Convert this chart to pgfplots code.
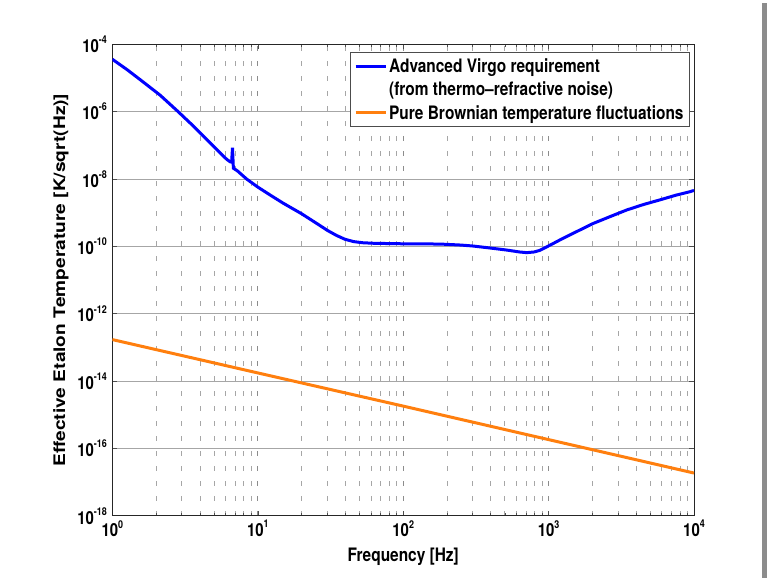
\documentclass[border=0pt]{standalone}
\usepackage{fontspec}
\setmainfont{TeX Gyre Heros}
\usepackage{graphicx}
\usepackage{pgfplots}
\pgfplotsset{compat=1.18}

\definecolor{vblue}{RGB}{0,0,255}
\definecolor{vorange}{RGB}{255,127,14}
\newcommand{\tl}[1]{\scalebox{1}[1.2]{\bfseries\fontsize{15}{15}\selectfont 10\raisebox{0.5em}{\fontsize{9}{9}\selectfont #1}}}
\newcommand{\lt}[1]{\scalebox{1}[1.2]{\bfseries\fontsize{15.5}{18}\selectfont #1}}

\pgfplotstableread{
f T
1 3.59e-5
1.259 1.78e-5
1.585 8.32e-6
2.128 3.09e-6
2.818 1.02e-6
3.548 3.98e-7
4.467 1.48e-7
5.495 6.03e-8
6.109 3.85e-8
6.442 3.26e-8
6.607 3.16e-8
6.699 8.5e-8
6.792 2.09e-8
7.244 1.74e-8
8.375 1.0e-8
10 5.75e-9
12.5 3.1e-9
14.96 1.91e-9
20 9.3e-10
25.41 4.79e-10
30.2 2.95e-10
34.91 2.09e-10
39.8 1.62e-10
45.7 1.38e-10
52.5 1.28e-10
63.1 1.23e-10
79.4 1.21e-10
100 1.19e-10
179 1.17e-10
251 1.09e-10
303.4 1.02e-10
398 8.9e-11
515.2 7.76e-11
631 6.8e-11
707.9 6.5e-11
794 6.8e-11
871 7.6e-11
955 9.3e-11
1050 1.15e-10
1197 1.55e-10
1479 2.45e-10
2028 4.79e-10
2700 7.9e-10
3443 1.20e-9
4500 1.75e-9
5834 2.40e-9
7500 3.3e-9
9333 4.17e-9
10000 4.57e-9
}\virgo

\pgfplotstableread{
f T
1 1.7e-13
10 1.74e-14
100 1.8e-15
1000 1.82e-16
10000 1.85e-17
}\brown

\begin{document}
\begin{tikzpicture}
\begin{axis}[
  at={(112.4bp,-515.7bp)}, anchor=south west,
  scale only axis, width=581.6bp, height=471.4bp,
  xmode=log, ymode=log,
  xmin=1, xmax=1e4, ymin=1e-18, ymax=1e-4,
  xtick={1,10,100,1000,10000},
  xticklabels={\tl{0},\tl{1},\tl{2},\tl{3},\tl{4}},
  ytick={1e-18,1e-16,1e-14,1e-12,1e-10,1e-8,1e-6,1e-4},
  yticklabels={\tl{-18},\tl{-16},\tl{-14},\tl{-12},\tl{-10},\tl{-8},\tl{-6},\tl{-4}},
  minor xtick={2,3,4,5,6,7,8,9,20,30,40,50,60,70,80,90,200,300,400,500,600,700,800,900,2000,3000,4000,5000,6000,7000,8000,9000},
  minor ytick={},
  xmajorgrids, xminorgrids, ymajorgrids,
  major x grid style={black!45, line width=0.7bp, dash pattern=on 5bp off 10bp},
  minor x grid style={black!35, line width=0.7bp, dash pattern=on 5bp off 10bp},
  major y grid style={black!35, line width=0.9bp},
  axis line style={black!85, line width=0.8bp},
  major tick length=5bp, minor tick length=3bp,
  tick style={black!70, line width=0.6bp},
  xticklabel style={yshift=-1bp},
  yticklabel style={xshift=-2bp},
  xlabel={\lt{Frequency [Hz]}},
  xlabel style={at={(axis description cs:0.5,-0.0866)}, anchor=center},
  ylabel={\scalebox{1.2}[1]{\bfseries\fontsize{16}{16}\selectfont Effective Etalon Temperature [K/sqrt(Hz)]}},
  ylabel style={at={(axis description cs:-0.0884,0.5)}, anchor=center},
  legend cell align=left,
  legend image code/.code={\draw[#1] (0bp,0bp) -- (30bp,0bp);},
  legend style={at={(rel axis cs:0.993,0.983)}, anchor=north east,
    draw=black!70, line width=0.8bp, fill=white, inner xsep=4bp, inner ysep=4bp,
    row sep=4bp},
]
\addplot[vblue, line width=3bp] table[x=f, y=T] {\virgo};
\addlegendentry{\lt{Advanced Virgo requirement}}
\addlegendimage{empty legend}
\addlegendentry{\lt{(from thermo--refractive noise)}}
\addplot[vorange, line width=3bp] table[x=f, y=T] {\brown};
\addlegendentry{\lt{Pure Brownian temperature fluctuations}}
\end{axis}
\fill[black!45] (762bp,-3bp) rectangle (767bp,-578bp);
\pgfresetboundingbox
\path[use as bounding box] (0bp,0bp) rectangle (767bp,-578bp);
\end{tikzpicture}
\end{document}
